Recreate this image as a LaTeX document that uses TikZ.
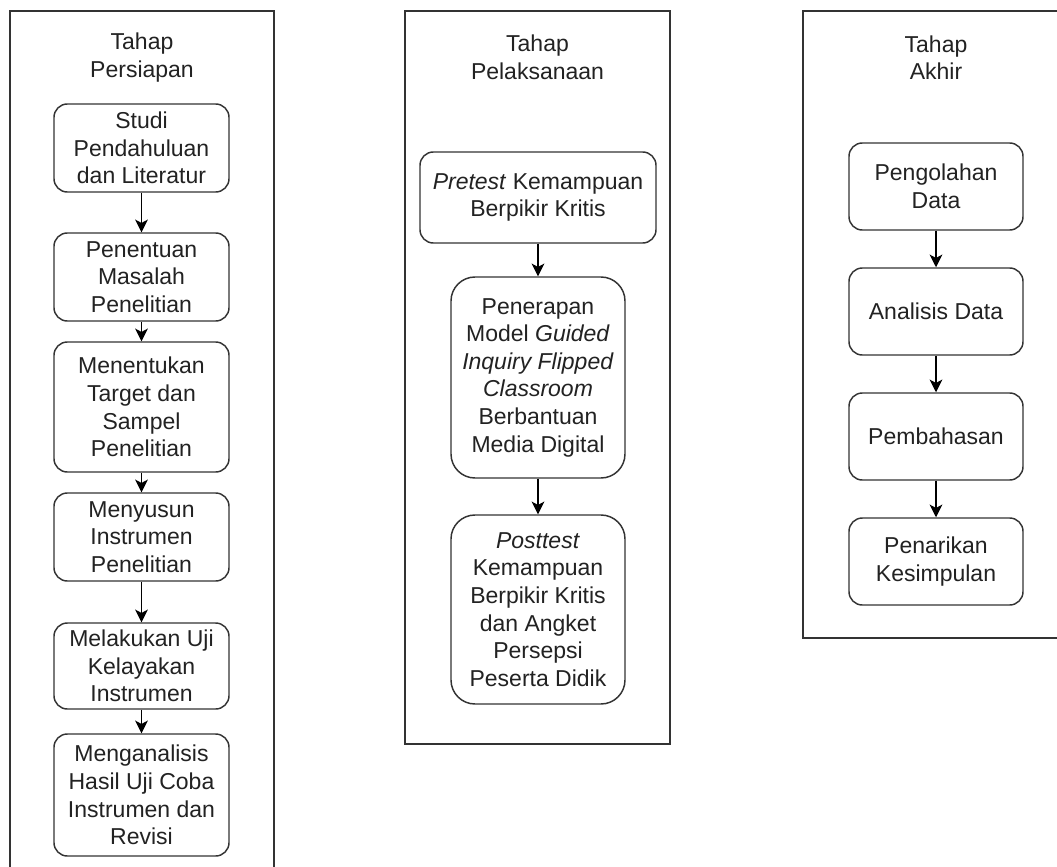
\documentclass[tikz,border=0pt]{standalone}
\usepackage{fontspec}
\setmainfont{Liberation Sans}
\usetikzlibrary{arrows.meta}
\definecolor{edge}{HTML}{333333}
\definecolor{ink}{HTML}{222222}
\tikzset{
  every node/.style={font=\fontsize{17.25pt}{20.7pt}\selectfont, text=ink},
  container/.style={draw=edge, line width=1.1pt},
  title/.style={align=center, inner sep=0pt},
  stepbox/.style={draw=edge, line width=1.1pt, rounded corners=10pt, align=center, inner sep=0pt, minimum width=131.25pt},
  tallbox/.style={stepbox, rounded corners=18pt},
  flow/.style={draw=black, line width=1.1pt, -{Stealth[length=9.5pt,width=9.5pt,inset=2.5pt]}}
}
\begin{document}
\begin{tikzpicture}[x=0.75pt,y=-0.75pt]
\useasboundingbox (0,0) rectangle (1057,867);
\fill[white] (0,0) rectangle (1057,867);

% containers
\draw[container] (10,867) -- (10,11) -- (274,11) -- (274,867);
\draw[container] (405,11) rectangle (670,744);
\draw[container] (1057,11) -- (803,11) -- (803,638) -- (1057,638);

% titles
\node[title] (t1) at (142,57.5) {Tahap\\Persiapan};
\node[title] (t2) at (537.5,57.5) {Tahap\\Pelaksanaan};
\node[title] (t3) at (936,57.5) {Tahap\\Akhir};

% left column
\node[stepbox, minimum height=66pt] (a1) at (141.5,148) {Studi\\Pendahuluan\\dan Literatur};
\node[stepbox, minimum height=66pt] (a2) at (141.5,277) {Penentuan\\Masalah\\Penelitian};
\node[stepbox, minimum height=97.5pt] (a3) at (141.5,407) {Menentukan\\Target dan\\Sampel\\Penelitian};
\node[stepbox, minimum height=66pt] (a4) at (141.5,537) {Menyusun\\Instrumen\\Penelitian};
\node[stepbox, minimum height=64.5pt] (a5) at (141.5,666) {Melakukan Uji\\Kelayakan\\Instrumen};
\node[stepbox, minimum height=91.5pt] (a6) at (141.5,795) {Menganalisis\\Hasil Uji Coba\\Instrumen dan\\Revisi};

% middle column
\node[stepbox, minimum width=177pt, minimum height=68.25pt] (b1) at (538,197.5) {\textit{Pretest} Kemampuan\\Berpikir Kritis};
\node[tallbox, minimum width=130.5pt, minimum height=150.75pt] (b2) at (538,377.5) {Penerapan\\Model \textit{Guided}\\\textit{Inquiry Flipped}\\\textit{Classroom}\\Berbantuan\\Media Digital};
\node[tallbox, minimum width=130.5pt, minimum height=141.75pt] (b3) at (538,609.5) {\textit{Posttest}\\Kemampuan\\Berpikir Kritis\\dan Angket\\Persepsi\\Peserta Didik};

% right column
\node[stepbox, minimum width=130.5pt, minimum height=65.25pt] (c1) at (936,186.5) {Pengolahan\\Data};
\node[stepbox, minimum width=130.5pt, minimum height=65.25pt] (c2) at (936,311.5) {Analisis Data};
\node[stepbox, minimum width=130.5pt, minimum height=65.25pt] (c3) at (936,436.5) {Pembahasan};
\node[stepbox, minimum width=130.5pt, minimum height=65.25pt] (c4) at (936,561.5) {Penarikan\\Kesimpulan};

% connectors
\draw[flow] (a1) -- (a2);
\draw[flow] (a2) -- (a3);
\draw[flow] (a3) -- (a4);
\draw[flow] (a4) -- (a5);
\draw[flow] (a5) -- (a6);
\draw[flow] (b1) -- (b2);
\draw[flow] (b2) -- (b3);
\draw[flow] (c1) -- (c2);
\draw[flow] (c2) -- (c3);
\draw[flow] (c3) -- (c4);
\end{tikzpicture}
\end{document}
